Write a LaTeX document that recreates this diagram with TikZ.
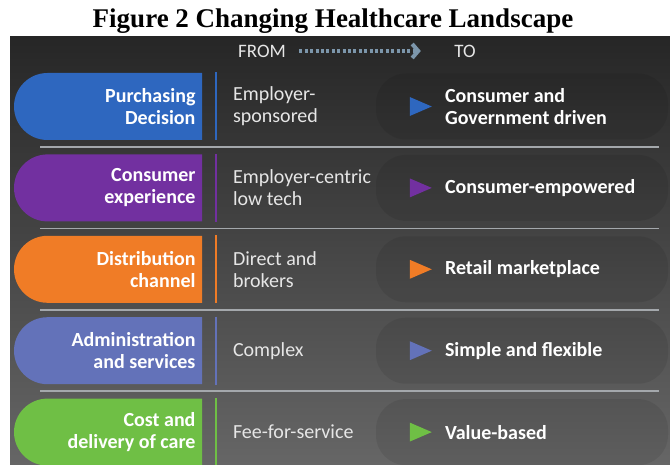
\documentclass[tikz,border=0pt]{standalone}
\usepackage{fontspec}
\setmainfont{Carlito}
\newfontfamily\titlefont{Liberation Serif}
\usepackage{tikz}
\newcommand{\rowstep}{81.4}
\newcommand{\pillhalf}{33.5}
\definecolor{myBlue}{HTML}{2E67BF}
\definecolor{myPurple}{HTML}{7230A0}
\definecolor{myOrange}{HTML}{F07C26}
\definecolor{myLilac}{HTML}{6372B9}
\definecolor{myGreen}{HTML}{6FBF45}
\definecolor{myLight}{HTML}{E6E6E6}
\definecolor{mySep}{HTML}{A4A8AC}
\definecolor{myDots}{HTML}{7C96AB}
\usetikzlibrary{arrows.meta,positioning,shapes.geometric}
\tikzset{
  x=1pt,y=-1pt,
  font=\fontsize{20}{22}\selectfont,
  pilltext/.style={text=white,font=\fontsize{20}{22}\selectfont\bfseries,align=right,anchor=east},
  fromtext/.style={text=myLight,align=left,anchor=west},
  totext/.style={text=white,font=\fontsize{20}{22}\selectfont\bfseries,align=left,anchor=west},
  head/.style={text=myLight,font=\fontsize{19}{22}\selectfont},
  tobox/.style={fill=black,fill opacity=0.08,rounded corners=30,minimum width=292,minimum height=66,inner sep=0},
  tri/.style={isosceles triangle,isosceles triangle stretches,minimum height=22,minimum width=19,inner sep=0,shape border rotate=0},
  bar/.style={line width=1.6},
  sep/.style={draw=mySep,line width=1.5},
  dots/.style={draw=myDots,line width=3.2,dash pattern=on 3 off 2.4,-{Straight Barb[length=6,width=14,line width=4]}},
}

\begin{document}
\begin{tikzpicture}
  \useasboundingbox (0,0) rectangle (670,465);
  \node[font=\titlefont\bfseries\fontsize{27}{30}\selectfont] (title) at (333,21) {Figure 2 Changing Healthcare Landscape};
  \shade[top color=black!85,bottom color=black!60] (10,37) rectangle (670,465);
  % header
  \node[head] (fromhead) at (262,51) {FROM};
  \node[head] (tohead) at (465,51) {TO};
  \draw[dots] ([xshift=10]fromhead.east) -- ([xshift=-30]tohead.west);
  % rows
  \foreach \col/\lab/\fromtxt/\totxt [count=\i] in {
      myBlue/{Purchasing\\Decision}/{Employer-\\sponsored}/{Consumer and\\Government driven},
      myPurple/{Consumer\\experience}/{Employer-centric\\low tech}/{Consumer-empowered},
      myOrange/{Distribution\\channel}/{Direct and\\brokers}/{Retail marketplace},
      myLilac/{Administration\\and services}/{Complex}/{Simple and flexible},
      myGreen/{Cost and\\delivery of care}/{Fee-for-service}/{Value-based}} {
    \pgfmathsetmacro\y{106.5+\rowstep*(\i-1)}
    \fill[\col] (202,\y-\pillhalf) [rounded corners=\pillhalf] -- (14,\y-\pillhalf) -- (14,\y+\pillhalf) [sharp corners] -- (202,\y+\pillhalf) -- cycle;
    \node[pilltext] (pill\i) at (199,\y) {\lab};
    \draw[bar,draw=\col] (216,\y-34) -- (216,\y+34);
    \node[fromtext] (from\i) at (229.5,\y) {\fromtxt};
    \node[tobox] (box\i) at (522,\y) {};
    \node[tri,fill=\col] (tri\i) at (416,\y) {};
    \node[totext] (to\i) at (441.5,\y) {\totxt};
    \ifnum\i<5 \draw[sep] (40,\y+40.5) -- (659,\y+40.5); \fi
  }
\end{tikzpicture}
\end{document}
